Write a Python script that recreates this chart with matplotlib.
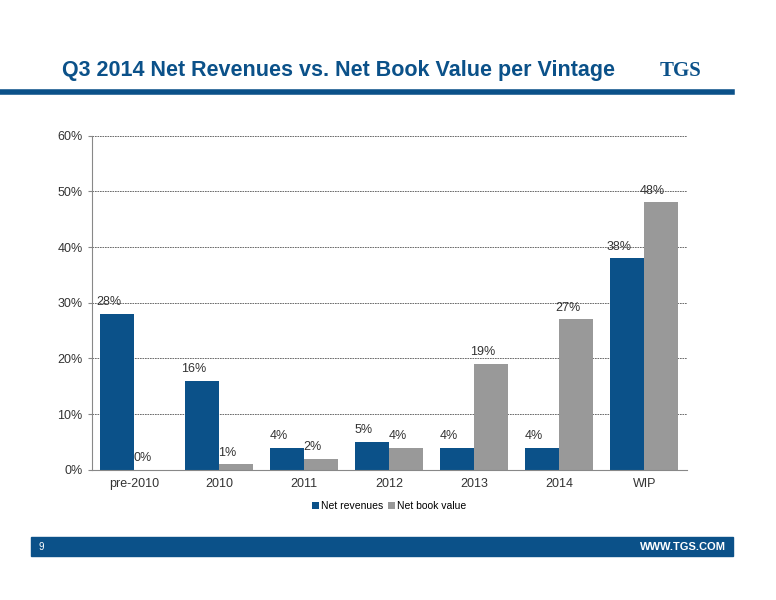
import matplotlib
matplotlib.use('Agg')
from matplotlib import pyplot as plt
import numpy as np

categories = ['pre-2010', '2010', '2011', '2012', '2013', '2014', 'WIP']
net_revenues = [28, 16, 4, 5, 4, 4, 38]
net_book_value = [0, 1, 2, 4, 19, 27, 48]
yticks = [0, 10, 20, 30, 40, 50, 60]

blue = '#0b5189'
grey = '#999999'
plt.rcParams['font.family'] = ['Liberation Sans', 'DejaVu Sans']

fig = plt.figure(figsize=(7.76, 6.0), dpi=100)

# header
fig.text(0.08, 0.873, 'Q3 2014 Net Revenues vs. Net Book Value per Vintage',
         fontsize=15.5, fontweight='bold', color=blue)
fig.text(0.85, 0.873, 'TGS', fontsize=15, fontweight='bold', color=blue,
         family='Liberation Serif')
fig.add_artist(plt.Line2D([0.0, 0.943], [0.847, 0.847], color=blue, lw=4))

# footer bar
fig.add_artist(plt.Rectangle((0.04, 0.073), 0.905, 0.032, color=blue,
                             transform=fig.transFigure))
fig.text(0.05, 0.089, '9', fontsize=7, color='white', va='center')
fig.text(0.935, 0.089, 'WWW.TGS.COM', fontsize=8, color='white',
         fontweight='bold', va='center', ha='right')

ax = fig.add_axes([0.118, 0.217, 0.767, 0.557])
x = np.arange(len(categories))
w = 0.4
ax.bar(x - w / 2, net_revenues, w, color=blue, label='Net revenues')
ax.bar(x + w / 2, net_book_value, w, color=grey, label='Net book value')
for i in range(len(categories)):
    ax.text(x[i] - w / 2 - 0.1, net_revenues[i] + 1, '%d%%' % net_revenues[i],
            ha='center', va='bottom', fontsize=9, color='#333333')
    ax.text(x[i] + w / 2 - 0.1, net_book_value[i] + 1, '%d%%' % net_book_value[i],
            ha='center', va='bottom', fontsize=9, color='#333333')

ax.set_xlim(-0.5, len(categories) - 0.5)
ax.set_ylim(0, 60)
ax.set_yticks(yticks)
ax.set_yticklabels(['%d%%' % v for v in yticks], fontsize=9, color='#333333')
ax.set_xticks(x)
ax.set_xticklabels(categories, fontsize=9, color='#333333')
ax.yaxis.grid(True, linestyle=(0, (2, 1)), color='#555555', lw=0.6)
ax.set_axisbelow(True)
for s in ['top', 'right']:
    ax.spines[s].set_visible(False)
ax.spines['left'].set_color('#888888')
ax.spines['bottom'].set_color('#888888')
ax.tick_params(axis='x', length=0, pad=6)
ax.tick_params(axis='y', length=3, color='#888888')
ax.legend(loc='upper center', bbox_to_anchor=(0.5, -0.065), ncol=2,
          frameon=False, fontsize=7.5, handlelength=0.6, handletextpad=0.2,
          columnspacing=0.5)

fig.savefig('out.png')
